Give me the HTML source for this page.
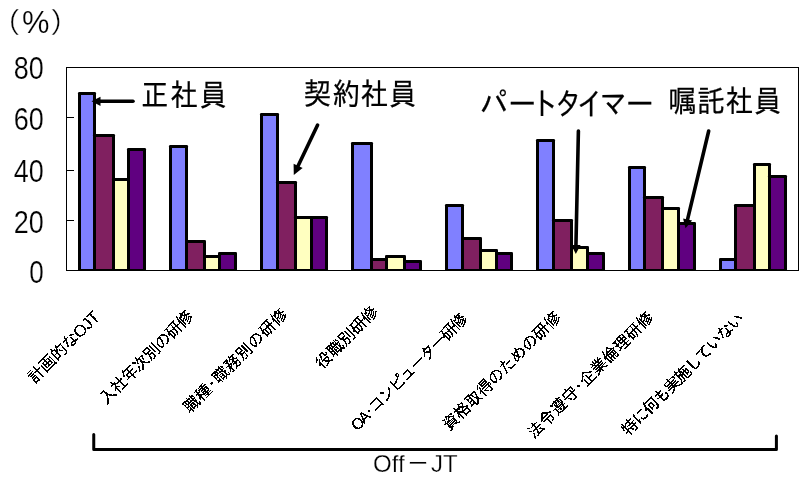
<!DOCTYPE html>
<html lang="ja"><head><meta charset="utf-8"><title>chart</title>
<style>html,body{margin:0;padding:0;background:#fff}svg{display:block}.big{font-family:"Liberation Sans","IPAGothic","Noto Sans CJK JP",sans-serif;font-size:28px;fill:#000;stroke:#000;stroke-width:.2px}.ax{font-family:"Liberation Sans","IPAGothic","Noto Sans CJK JP",sans-serif;font-size:31px;fill:#000;stroke:#fff;stroke-width:.2px;paint-order:fill stroke}.xl{font-family:"Liberation Sans","IPAGothic","Noto Sans CJK JP",sans-serif;font-size:16.5px;fill:#000;stroke:#000;stroke-width:.2px;text-anchor:end}.par{font-family:"Liberation Sans","IPAGothic","Noto Sans CJK JP",sans-serif;font-size:29px;fill:#000;stroke:#fff;stroke-width:.3px;paint-order:fill stroke}.off{font-family:"Liberation Sans","IPAGothic","Noto Sans CJK JP",sans-serif;font-size:24px;fill:#000;stroke:#fff;stroke-width:.25px;paint-order:fill stroke}</style></head><body>
<svg width="809" height="480" viewBox="0 0 809 480">
<rect width="809" height="480" fill="#fff"/>
<defs><filter id="th" x="0" y="0" width="809" height="480" filterUnits="userSpaceOnUse" color-interpolation-filters="sRGB"><feComponentTransfer><feFuncA type="discrete" tableValues="0 1"/></feComponentTransfer></filter></defs>
<rect x="66.5" y="67.5" width="732" height="203" fill="#fff" stroke="#000" stroke-width="1" shape-rendering="crispEdges"/>
<rect x="67" y="117" width="7" height="1" fill="#000"/>
<rect x="67" y="170" width="7" height="1" fill="#000"/>
<rect x="67" y="220" width="7" height="1" fill="#000"/>
<clipPath id="pc"><rect x="66" y="67" width="733" height="204"/></clipPath><g clip-path="url(#pc)">
<rect x="78" y="92" width="18" height="181" rx="1.3" fill="#000"/>
<rect x="81" y="95" width="12" height="174" fill="#8080ff"/>
<rect x="93" y="134" width="22" height="139" rx="1.3" fill="#000"/>
<rect x="96" y="137" width="16" height="132" fill="#802060"/>
<rect x="112" y="178" width="18" height="95" rx="1.3" fill="#000"/>
<rect x="115" y="181" width="12" height="88" fill="#ffffc0"/>
<rect x="127" y="148" width="19" height="125" rx="1.3" fill="#000"/>
<rect x="130" y="151" width="13" height="118" fill="#600080"/>
<rect x="169" y="145" width="19" height="128" rx="1.3" fill="#000"/>
<rect x="172" y="148" width="13" height="121" fill="#8080ff"/>
<rect x="185" y="240" width="21" height="33" rx="1.3" fill="#000"/>
<rect x="188" y="243" width="15" height="26" fill="#802060"/>
<rect x="203" y="255" width="18" height="18" rx="1.3" fill="#000"/>
<rect x="206" y="258" width="12" height="11" fill="#ffffc0"/>
<rect x="218" y="252" width="19" height="21" rx="1.3" fill="#000"/>
<rect x="221" y="255" width="13" height="14" fill="#600080"/>
<rect x="260" y="113" width="19" height="160" rx="1.3" fill="#000"/>
<rect x="263" y="116" width="13" height="153" fill="#8080ff"/>
<rect x="276" y="181" width="21" height="92" rx="1.3" fill="#000"/>
<rect x="279" y="184" width="15" height="85" fill="#802060"/>
<rect x="294" y="216" width="19" height="57" rx="1.3" fill="#000"/>
<rect x="297" y="219" width="13" height="50" fill="#ffffc0"/>
<rect x="310" y="216" width="18" height="57" rx="1.3" fill="#000"/>
<rect x="313" y="219" width="12" height="50" fill="#600080"/>
<rect x="351" y="142" width="22" height="131" rx="1.3" fill="#000"/>
<rect x="354" y="145" width="16" height="124" fill="#8080ff"/>
<rect x="370" y="258" width="18" height="15" rx="1.3" fill="#000"/>
<rect x="373" y="261" width="12" height="8" fill="#802060"/>
<rect x="385" y="255" width="21" height="18" rx="1.3" fill="#000"/>
<rect x="388" y="258" width="15" height="11" fill="#ffffc0"/>
<rect x="403" y="260" width="19" height="13" rx="1.3" fill="#000"/>
<rect x="406" y="263" width="13" height="6" fill="#600080"/>
<rect x="445" y="204" width="19" height="69" rx="1.3" fill="#000"/>
<rect x="448" y="207" width="13" height="62" fill="#8080ff"/>
<rect x="461" y="237" width="21" height="36" rx="1.3" fill="#000"/>
<rect x="464" y="240" width="15" height="29" fill="#802060"/>
<rect x="479" y="249" width="19" height="24" rx="1.3" fill="#000"/>
<rect x="482" y="252" width="13" height="17" fill="#ffffc0"/>
<rect x="495" y="252" width="18" height="21" rx="1.3" fill="#000"/>
<rect x="498" y="255" width="12" height="14" fill="#600080"/>
<rect x="536" y="139" width="19" height="134" rx="1.3" fill="#000"/>
<rect x="539" y="142" width="13" height="127" fill="#8080ff"/>
<rect x="552" y="219" width="21" height="54" rx="1.3" fill="#000"/>
<rect x="555" y="222" width="15" height="47" fill="#802060"/>
<rect x="570" y="246" width="19" height="27" rx="1.3" fill="#000"/>
<rect x="573" y="249" width="13" height="20" fill="#ffffc0"/>
<rect x="586" y="252" width="19" height="21" rx="1.3" fill="#000"/>
<rect x="589" y="255" width="13" height="14" fill="#600080"/>
<rect x="628" y="166" width="18" height="107" rx="1.3" fill="#000"/>
<rect x="631" y="169" width="12" height="100" fill="#8080ff"/>
<rect x="643" y="196" width="21" height="77" rx="1.3" fill="#000"/>
<rect x="646" y="199" width="15" height="70" fill="#802060"/>
<rect x="661" y="207" width="19" height="66" rx="1.3" fill="#000"/>
<rect x="664" y="210" width="13" height="59" fill="#ffffc0"/>
<rect x="677" y="222" width="19" height="51" rx="1.3" fill="#000"/>
<rect x="680" y="225" width="13" height="44" fill="#600080"/>
<rect x="719" y="258" width="18" height="15" rx="1.3" fill="#000"/>
<rect x="722" y="261" width="12" height="8" fill="#8080ff"/>
<rect x="734" y="204" width="22" height="69" rx="1.3" fill="#000"/>
<rect x="737" y="207" width="16" height="62" fill="#802060"/>
<rect x="753" y="163" width="18" height="110" rx="1.3" fill="#000"/>
<rect x="756" y="166" width="12" height="103" fill="#ffffc0"/>
<rect x="768" y="175" width="19" height="98" rx="1.3" fill="#000"/>
<rect x="771" y="178" width="13" height="91" fill="#600080"/>
</g>
<g style="opacity:.999">
<text class="ax" x="43.8" y="79.3" text-anchor="end" textLength="30" lengthAdjust="spacingAndGlyphs">80</text>
<text class="ax" x="43.8" y="129.5" text-anchor="end" textLength="30" lengthAdjust="spacingAndGlyphs">60</text>
<text class="ax" x="43.8" y="182.3" text-anchor="end" textLength="30" lengthAdjust="spacingAndGlyphs">40</text>
<text class="ax" x="43.8" y="233" text-anchor="end" textLength="30" lengthAdjust="spacingAndGlyphs">20</text>
<text class="ax" x="43.8" y="283.2" text-anchor="end" textLength="14.5" lengthAdjust="spacingAndGlyphs">0</text>
<text class="ax" x="22" y="32.5" textLength="27.5" lengthAdjust="spacingAndGlyphs">%</text>
<text class="par" x="-8" y="32.6">（</text>
<text class="par" x="49.5" y="32.6">）</text>
<text class="big" transform="translate(141,105.8) scale(1,1.1)" y="0" style="letter-spacing:1.2px" x="0">正社員</text>
<text class="big" transform="translate(303.5,104.6) scale(1,1.1)" y="0" style="letter-spacing:0.5px" x="0">契約社員</text>
<text class="big" transform="translate(480,115) scale(1,1.12)" y="0" style="letter-spacing:0px" x="0 28.3 51 74.6 96.4 119.5 145.8">パートタイマー</text>
<text class="big" transform="translate(668.5,112.2) scale(1,1.1)" y="0" style="letter-spacing:0.5px" x="0">嘱託社員</text>
</g>
<line x1="133.0" y1="101.3" x2="98.5" y2="101.3" stroke="#000" stroke-width="3.6" stroke-linecap="round"/><polygon points="91.5,101.3 100.5,96.7 100.5,105.9" fill="#000"/>
<line x1="317.6" y1="125.0" x2="297.2" y2="167.8" stroke="#000" stroke-width="3.6" stroke-linecap="round"/><polygon points="293.8,175.0 293.6,163.8 302.6,168.1" fill="#000"/>
<line x1="578.4" y1="131.0" x2="575.9" y2="247.0" stroke="#000" stroke-width="3.6" stroke-linecap="round"/><polygon points="575.8,254.0 571.4,244.9 580.6,245.1" fill="#000"/>
<line x1="708.7" y1="131.0" x2="687.1" y2="221.4" stroke="#000" stroke-width="3.6" stroke-linecap="round"/><polygon points="685.5,228.2 683.1,218.4 692.1,220.5" fill="#000"/>
<g filter="url(#th)">
<text class="xl" transform="translate(101.0,317.8) rotate(-45)" x="0" y="0" textLength="94" lengthAdjust="spacing">計画的な<tspan style="font-size:16.5px">OJT</tspan></text>
<text class="xl" transform="translate(194.6,317.1) rotate(-45)" x="0" y="0" textLength="125" lengthAdjust="spacing">入社年次別の研修</text>
<text class="xl" transform="translate(288.9,315.0) rotate(-45)" x="0" y="0" textLength="140" lengthAdjust="spacing">職種<tspan dx="-4">・</tspan><tspan dx="-4">職</tspan>務別の研修</text>
<text class="xl" transform="translate(379.5,312.5) rotate(-45)" x="0" y="0" textLength="81" lengthAdjust="spacing">役職別研修</text>
<text class="xl" transform="translate(469.0,319.8) rotate(-45)" x="0" y="0" textLength="158" lengthAdjust="spacing"><tspan style="font-size:15.5px">OA</tspan><tspan dx="-4">・</tspan><tspan dx="-4">コ</tspan>ンピューター研修</text>
<text class="xl" transform="translate(562.3,318.3) rotate(-45)" x="0" y="0" textLength="160" lengthAdjust="spacing">資格取得のための研修</text>
<text class="xl" transform="translate(655.0,318.4) rotate(-45)" x="0" y="0" textLength="171" lengthAdjust="spacing">法令遵守<tspan dx="-4">・</tspan><tspan dx="-4">企</tspan>業倫理研修</text>
<text class="xl" transform="translate(745.6,319.3) rotate(-45)" x="0" y="0" textLength="166" lengthAdjust="spacing">特に何も実施していない</text>
</g>
<path d="M93.75,434.5 V449.5 H776.4 V436" fill="none" stroke="#000" stroke-width="3" stroke-linecap="round" stroke-linejoin="round"/>
<g style="opacity:.999">
<text class="off" x="373" y="472">Off</text>
<text class="off" x="406" y="472" >－</text>
<text class="off" x="431" y="472">JT</text>
</g>
</svg></body></html>
